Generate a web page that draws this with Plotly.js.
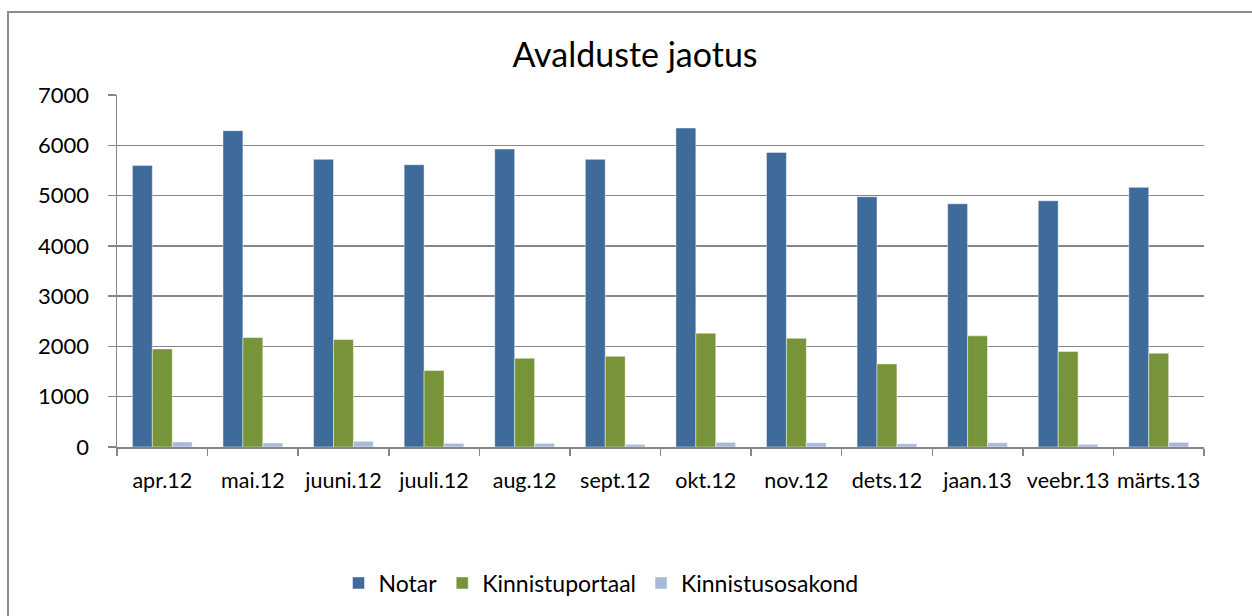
<!DOCTYPE html>
<html>
<head>
<meta charset="utf-8">
<script src="https://cdn.plot.ly/plotly-3.0.1.min.js"></script>
<style>html,body{margin:0;padding:0;background:#fff;}#chart{width:1252px;height:616px;}</style>
</head>
<body>
<div id="chart"></div>
<script>
const categories = ["apr.12","mai.12","juuni.12","juuli.12","aug.12","sept.12","okt.12","nov.12","dets.12","jaan.13","veebr.13","märts.13"];
const notar = [5600, 6290, 5720, 5614, 5926, 5720, 6344, 5859, 4977, 4837, 4897, 5163];
const kinnistuportaal = [1951, 2177, 2137, 1520, 1765, 1805, 2263, 2163, 1652, 2210, 1898, 1865];
const kinnistusosakond = [100, 80, 113, 73, 73, 53, 93, 86, 66, 86, 53, 93];
const yTicks = [0,1000,2000,3000,4000,5000,6000,7000];

const font = "Lato, 'Open Sans', sans-serif";
const outline = {color: "rgba(255,255,255,0.45)", width: 1};
const traces = [
  {type:"bar", name:"Notar", x:categories, y:notar, marker:{color:"#3F6B9B", line:outline}},
  {type:"bar", name:"Kinnistuportaal", x:categories, y:kinnistuportaal, marker:{color:"#78943A", line:outline}},
  {type:"bar", name:"Kinnistusosakond", x:categories, y:kinnistusosakond, marker:{color:"#A9BAD9", line:outline}}
];

const L = 117, R = 1204, T = 95, B = 447;
const pw = R - L, ph = B - T;
const px = v => (v - L) / pw;
const py = v => (B - v) / ph;

const layout = {
  width:1252, height:616,
  margin:{l:L, r:1252-R, t:T, b:616-B, pad:0},
  paper_bgcolor:"#fff", plot_bgcolor:"#fff",
  font:{family:font, color:"#000", size:22},
  title:{text:"Avalduste jaotus", font:{family:font, size:34, color:"#000"}, x:635/1252, xanchor:"center", xref:"container", y:1-55/616, yanchor:"middle", yref:"container"},
  barmode:"group", bargap:0.34, bargroupgap:0,
  showlegend:true,
  legend:{orientation:"h", x:px(601), xanchor:"center", y:py(583), yanchor:"middle", font:{family:font, size:23, color:"#000"}, itemclick:false, traceorder:"normal"},
  xaxis:{type:"category", showgrid:false, showline:true, linecolor:"#868686", linewidth:1.5, ticks:"outside", tickson:"boundaries", ticklen:7, tickcolor:"#868686", tickwidth:1.5, tickangle:0, tickfont:{family:font, size:21.5, color:"#000"}, ticklabelstandoff:14, zeroline:false},
  yaxis:{range:[0,7000], tickvals:yTicks, ticktext:yTicks.map(String), showgrid:true, gridcolor:"#868686", gridwidth:1.5, showline:true, linecolor:"#868686", linewidth:1.5, ticks:"outside", ticklen:8, tickcolor:"#868686", tickwidth:1.5, tickfont:{family:font, size:22, color:"#000"}, ticklabelstandoff:14, zeroline:false, fixedrange:true},
  shapes:[{type:"rect", xref:"paper", yref:"paper", x0:px(8), x1:px(1270), y0:py(640), y1:py(12), line:{color:"#8c8c8c", width:2}, fillcolor:"rgba(0,0,0,0)", layer:"above"}]
};

Plotly.newPlot("chart", traces, layout, {staticPlot:true, displayModeBar:false});
</script>
</body>
</html>
